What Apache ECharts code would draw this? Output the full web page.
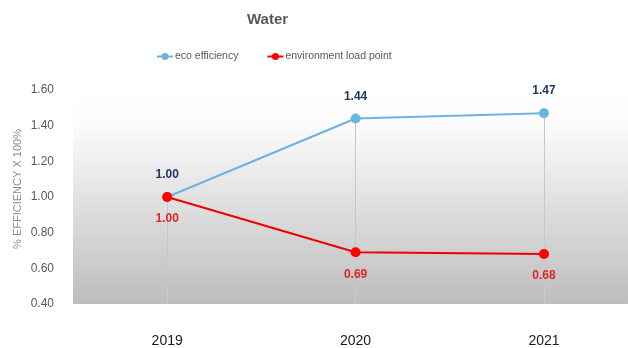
<!DOCTYPE html>
<html>
<head>
<meta charset="utf-8">
<script src="https://cdn.jsdelivr.net/npm/echarts@6/dist/echarts.min.js"></script>
<style>html,body{margin:0;padding:0;background:#fff;}#c{width:628px;height:348px;}</style>
</head>
<body>
<div id="c"></div>
<script>
var categories = ['2019', '2020', '2021'];
var ecoEfficiency = [1.00, 1.44, 1.47];
var envLoadPoint = [1.00, 0.69, 0.68];
var seriesNames = ['eco efficiency', 'environment load point'];
var yTicks = { min: 0.4, max: 1.6, step: 0.2 };

var catIndex = categories.map(function (c, i) { return i; });
var ecoData = ecoEfficiency.map(function (v, i) { return [i, v]; });
var envData = envLoadPoint.map(function (v, i) { return [i, v]; });
var dropLines = categories.map(function (c, i) {
  var top = Math.max(ecoEfficiency[i], envLoadPoint[i]);
  return [{ coord: [i, top] }, { coord: [i, yTicks.min] }];
});

var chart = echarts.init(document.getElementById('c'), null, { renderer: 'canvas' });
chart.setOption({
  animation: false,
  backgroundColor: '#ffffff',
  title: {
    text: 'Water',
    left: 242, top: 7,
    textStyle: { fontFamily: 'Liberation Sans, Arial, sans-serif', fontSize: 15, fontWeight: 'bold', color: '#595959' }
  },
  legend: {
    left: 151, top: 46,
    itemWidth: 16, itemHeight: 9, itemGap: 28,
    textStyle: { fontFamily: 'Liberation Sans, Arial, sans-serif', fontSize: 10.5, color: '#595959', padding: [0, 0, 0, -3] },
    data: seriesNames
  },
  grid: {
    left: 73, right: 0, top: 90, bottom: 44,
    show: true, borderWidth: 0,
    backgroundColor: {
      type: 'linear', x: 0, y: 0, x2: 0, y2: 1,
      colorStops: [
        { offset: 0, color: '#ffffff' },
        { offset: 0.15, color: '#fcfcfc' },
        { offset: 1, color: '#bdbdbd' }
      ]
    }
  },
  xAxis: {
    type: 'value',
    min: -0.5, max: 2.446,
    axisLine: { show: false },
    axisTick: { show: false },
    splitLine: { show: false },
    axisLabel: {
      customValues: catIndex,
      margin: 30, fontFamily: 'Liberation Sans, Arial, sans-serif', fontSize: 14, color: '#1a1a1a',
      formatter: function (v) { return categories[Math.round(v)] || ''; }
    }
  },
  yAxis: {
    type: 'value',
    min: yTicks.min, max: yTicks.max, interval: yTicks.step,
    name: '% EFFICIENCY X 100%',
    nameLocation: 'middle', nameRotate: 90, nameGap: 50,
    nameMoveOverlap: false,
    nameTextStyle: { fontFamily: 'Liberation Sans, Arial, sans-serif', fontSize: 11, color: '#8c8c8c', padding: [0, 0, 0, 16] },
    axisLine: { show: false },
    axisTick: { show: false },
    splitLine: { show: false },
    axisLabel: {
      margin: 19,
      fontFamily: 'Liberation Sans, Arial, sans-serif', fontSize: 12, color: '#595959',
      formatter: function (v) { return v.toFixed(2); }
    }
  },
  series: [
    {
      name: seriesNames[0],
      type: 'line',
      data: ecoData,
      symbol: 'circle', symbolSize: 10,
      lineStyle: { color: '#6bb3e0', width: 2 },
      itemStyle: { color: '#6bb3e0' },
      label: {
        show: true, position: 'top', distance: 11,
        fontFamily: 'Liberation Sans, Arial, sans-serif', fontSize: 12, fontWeight: 'bold', color: '#1f3864',
        formatter: function (p) { return p.value[1].toFixed(2); }
      },
      markLine: {
        silent: true, symbol: 'none',
        label: { show: false },
        lineStyle: { color: '#c8c8c8', width: 1, type: 'solid' },
        data: dropLines,
        z: 1
      },
      z: 3
    },
    {
      name: seriesNames[1],
      type: 'line',
      data: envData,
      symbol: 'circle', symbolSize: 10,
      lineStyle: { color: '#ee0000', width: 2 },
      itemStyle: { color: '#ff0000' },
      label: {
        show: true, position: 'bottom', distance: 11,
        fontFamily: 'Liberation Sans, Arial, sans-serif', fontSize: 12, fontWeight: 'bold', color: '#e0262b',
        formatter: function (p) { return p.value[1].toFixed(2); }
      },
      z: 4
    }
  ]
});
</script>
</body>
</html>
